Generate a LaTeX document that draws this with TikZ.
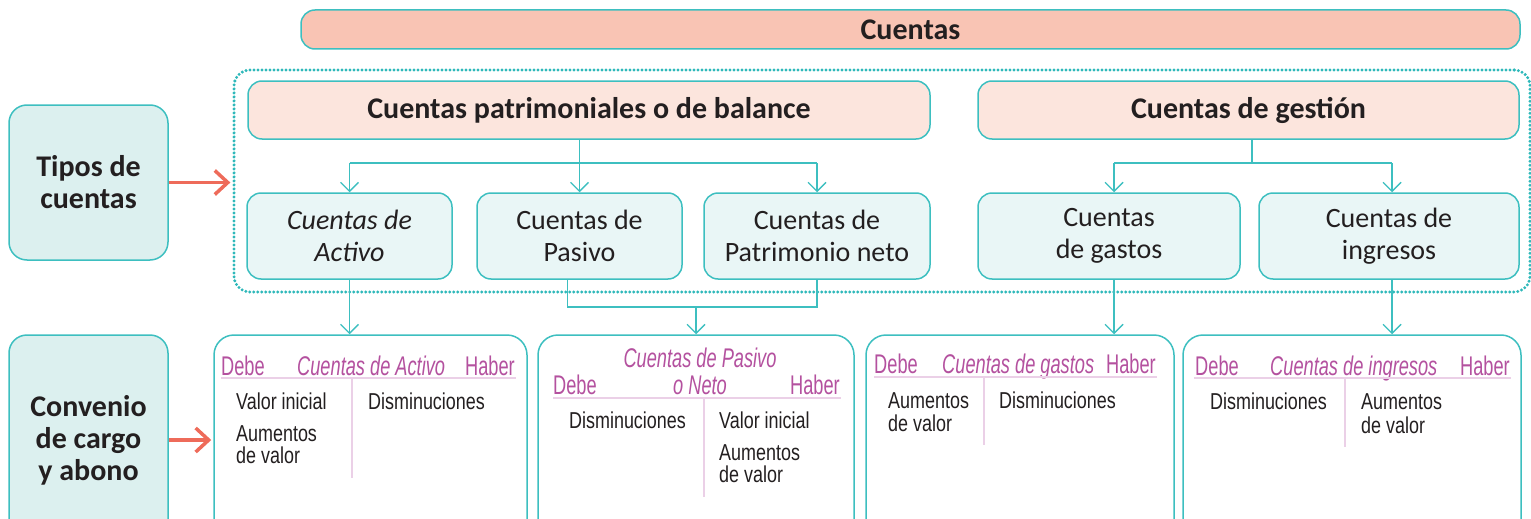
\documentclass[tikz,border=0pt]{standalone}
\usepackage{fontspec}
\setmainfont{Carlito}
\newfontfamily\condfont[FakeStretch=0.78]{Liberation Sans}
\newfontfamily\pinkfont[FakeStretch=0.675]{Liberation Sans}
\usetikzlibrary{arrows.meta,calc}
\definecolor{tealline}{HTML}{3DBFC0}
\definecolor{tealdot}{HTML}{2EB8BA}
\definecolor{salmonfill}{HTML}{F9C4B4}
\definecolor{peachfill}{HTML}{FCE5DD}
\definecolor{mintfill}{HTML}{DCF0EF}
\definecolor{icefill}{HTML}{E9F6F6}
\definecolor{arrowred}{HTML}{EE6B5A}
\definecolor{tmagenta}{HTML}{B4519F}
\definecolor{tpink}{HTML}{EBD0E7}
\definecolor{ink}{HTML}{231F20}

\begin{document}
\begin{tikzpicture}[x=1pt,y=-1pt,
   every node/.style={inner sep=0pt,text=ink},
   kbox/.style={draw=tealline,line width=1.5pt,rounded corners=14pt,align=center},
   cuentasbox/.style={kbox,fill=salmonfill,font=\bfseries\fontsize{30}{32}\selectfont},
   grupobox/.style={kbox,fill=peachfill,font=\bfseries\fontsize{30}{32}\selectfont},
   ladobox/.style={kbox,fill=mintfill,rounded corners=18pt,font=\bfseries\fontsize{30}{32}\selectfont},
   tipobox/.style={kbox,fill=icefill,font=\fontsize{28}{32}\selectfont},
   tcuenta/.style={kbox,fill=white,rounded corners=20pt},
   dotbox/.style={draw=tealdot,line width=3.3pt,dash pattern=on 0pt off 4pt,line cap=round,rounded corners=16pt},
   link/.style={draw=tealline,line width=1.4pt},
   conn/.style={link,-{Straight Barb[length=9pt,width=18pt]}},
   redarrow/.style={draw=arrowred,line width=3.5pt,-{Straight Barb[length=13pt,width=24pt]},shorten >=2pt},
   tline/.style={draw=tpink,line width=2.2pt},
   rotulo/.style={font=\pinkfont\fontsize{27}{27}\selectfont,text=tmagenta,anchor=base west},
   rotulocta/.style={rotulo,font=\pinkfont\itshape\fontsize{27}{27}\selectfont},
   asiento/.style={font=\condfont\fontsize{23}{23}\selectfont,anchor=base west}]
\clip (0,0) rectangle (1531,519);

\node[cuentasbox,minimum width=1219,minimum height=39] (cuentas) at (910.5,29.5) {Cuentas};
\node[dotbox,minimum width=1296,minimum height=222] (grupo) at (882,181) {};
\node[grupobox,minimum width=682,minimum height=58] (patrimoniales) at (589,110) {Cuentas patrimoniales o de balance};
\node[grupobox,minimum width=541,minimum height=58] (gestion) at (1248.5,110) {Cuentas de gestión};

\node[ladobox,minimum width=159,minimum height=155] (tipos) at (88.5,182.5) {Tipos de\\cuentas};
\node[ladobox,minimum width=159,minimum height=210] (convenio) at (88.5,440) {Convenio\\de cargo\\y abono};

\node[tipobox,minimum width=205,minimum height=86] (activo) at (349.5,236) {\itshape Cuentas de\\\itshape Activo};
\node[tipobox,minimum width=205,minimum height=86] (pasivo) at (579.5,236) {Cuentas de\\Pasivo};
\node[tipobox,minimum width=226,minimum height=86] (patneto) at (817,236) {Cuentas de\\Patrimonio neto};
\node[tipobox,minimum width=262,minimum height=86] (gastos) at (1109,236) {Cuentas\\de gastos};
\node[tipobox,minimum width=260,minimum height=86] (ingresos) at (1389,236) {Cuentas de\\ingresos};

\node[tcuenta,minimum width=313,minimum height=210] (tactivo) at (370.5,440) {};
\node[tcuenta,minimum width=316,minimum height=210] (tpasivo) at (696,440) {};
\node[tcuenta,minimum width=308,minimum height=210] (tgastos) at (1020,440) {};
\node[tcuenta,minimum width=338,minimum height=210] (tingresos) at (1352,440) {};

\coordinate (busA) at (0,163);
\coordinate (busB) at (0,307);
\draw[link] (activo.north |- busA) -- (patneto.north |- busA);
\draw[conn] (pasivo.north |- patrimoniales.south) -- (pasivo.north);
\draw[conn] (activo.north |- busA) -- (activo.north);
\draw[conn] (patneto.north |- busA) -- (patneto.north);
\draw[link] ([xshift=3.5]gestion.south) -- ([xshift=3.5]gestion.south |- busA);
\draw[link] ([xshift=5]gastos.north |- busA) -- ([xshift=3]ingresos.north |- busA);
\draw[conn] ([xshift=5]gastos.north |- busA) -- ([xshift=5]gastos.north);
\draw[conn] ([xshift=3]ingresos.north |- busA) -- ([xshift=3]ingresos.north);

\draw[conn] (activo.south) -- (activo.south |- tactivo.north);
\draw[link] ([xshift=-12]pasivo.south) |- (patneto.south |- busB) -- (patneto.south);
\draw[conn] (tpasivo.north |- busB) -- (tpasivo.north);
\draw[conn] ([xshift=5]gastos.south) -- ([xshift=5]gastos.south |- tgastos.north);
\draw[conn] ([xshift=3]ingresos.south) -- ([xshift=3]ingresos.south |- tingresos.north);

\draw[redarrow] (tipos.east) -- (tipos.east -| grupo.west);
\draw[redarrow] (convenio.east) -- (convenio.east -| tactivo.west);

\node[rotulo] (debeA) at (221,375) {Debe};
\node[rotulocta] (ctaA) at (297,375) {Cuentas de Activo};
\node[rotulo,anchor=base east] (haberA) at (515,375) {Haber};
\draw[tline] (221,378) -- (516,378);
\draw[tline] (352,378) -- (352,478);
\node[asiento] (valorA) at (236,409) {Valor inicial};
\node[asiento] (aumA) at (236,441) {Aumentos};
\node[asiento] (devA) at (236,463) {de valor};
\node[asiento] (disA) at (368,409) {Disminuciones};

\node[rotulocta,anchor=base] (ctaP) at (700,367) {Cuentas de Pasivo};
\node[rotulo] (debeP) at (553,394) {Debe};
\node[rotulocta,anchor=base] (netoP) at (700,394) {o Neto};
\node[rotulo,anchor=base east] (haberP) at (840,394) {Haber};
\draw[tline] (553,398) -- (841,398);
\draw[tline] (704,398) -- (704,497);
\node[asiento] (disP) at (569,428) {Disminuciones};
\node[asiento] (valorP) at (719,428) {Valor inicial};
\node[asiento] (aumP) at (719,460) {Aumentos};
\node[asiento] (devP) at (719,482) {de valor};

\node[rotulo] (debeG) at (874,373) {Debe};
\node[rotulocta] (ctaG) at (942,373) {Cuentas de gastos};
\node[rotulo,anchor=base east] (haberG) at (1156,373) {Haber};
\draw[tline] (874,377) -- (1157,377);
\draw[tline] (984,377) -- (984,445);
\node[asiento] (aumG) at (888,408) {Aumentos};
\node[asiento] (devG) at (888,431) {de valor};
\node[asiento] (disG) at (999,408) {Disminuciones};

\node[rotulo] (debeI) at (1195,375) {Debe};
\node[rotulocta] (ctaI) at (1270,375) {Cuentas de ingresos};
\node[rotulo,anchor=base east] (haberI) at (1510,375) {Haber};
\draw[tline] (1194,378) -- (1511,378);
\draw[tline] (1345,378) -- (1345,447);
\node[asiento] (disI) at (1210,409) {Disminuciones};
\node[asiento] (aumI) at (1361,409) {Aumentos};
\node[asiento] (devI) at (1361,433) {de valor};
\end{tikzpicture}
\end{document}
